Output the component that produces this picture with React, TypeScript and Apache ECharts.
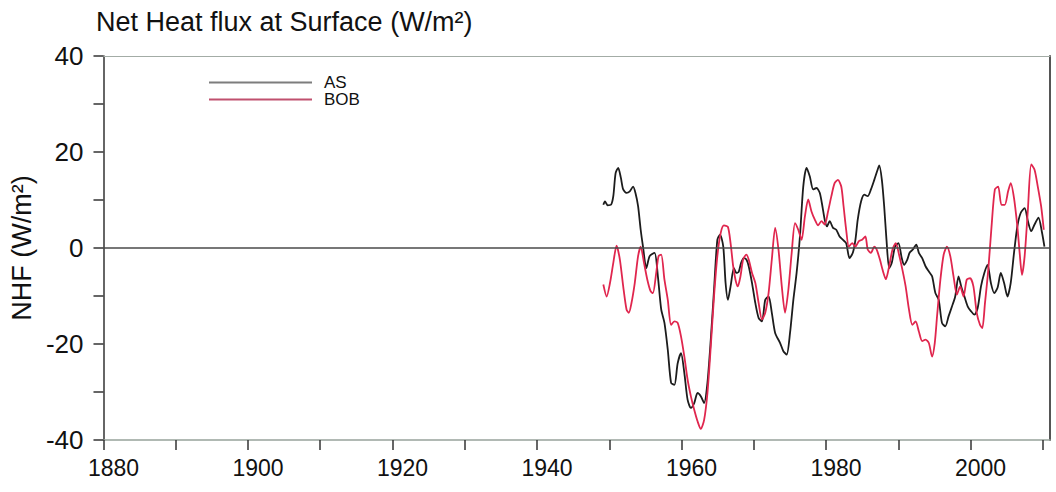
import React, { useEffect, useRef } from "react";
import * as echarts from "echarts";

// Net heat flux at surface, smoothed series (year, W/m²)
const asSeries: [number, number][] = [
  [1949.18, 9.0], [1949.41, 9.7], [1949.78, 8.9], [1950.24, 9.0], [1950.56, 10.8],
  [1950.88, 15.6], [1951.24, 16.7], [1951.61, 14.6], [1951.93, 12.2], [1952.39, 11.5],
  [1952.84, 11.8], [1953.3, 12.8], [1953.62, 11.5], [1953.99, 8.7], [1954.35, 3.8],
  [1954.67, 0.3], [1955.13, -4.2], [1955.59, -1.7], [1956.27, -1.0], [1956.73, -5.9],
  [1957.19, -12.8], [1957.64, -15.6], [1958.1, -21.2], [1958.56, -28.1], [1959.02, -28.5],
  [1959.47, -24.0], [1959.93, -21.9], [1960.39, -26.0], [1960.84, -31.6], [1961.3, -33.3],
  [1961.76, -32.3], [1962.22, -30.2], [1962.67, -30.9], [1963.13, -32.3], [1963.59, -28.1],
  [1964.05, -19.1], [1964.5, -8.7], [1964.96, 1.7], [1965.33, 2.8], [1965.78, 0.3],
  [1966.1, -7.3], [1966.42, -10.8], [1966.79, -8.0], [1967.25, -4.2], [1967.61, -5.2],
  [1967.93, -4.9], [1968.25, -3.1], [1968.62, -2.1], [1968.98, -2.4], [1969.3, -3.8],
  [1969.76, -7.3], [1970.22, -11.5], [1970.68, -14.6], [1971.13, -15.3], [1971.59, -10.8],
  [1972.05, -10.1], [1972.5, -13.5], [1972.96, -17.7], [1973.65, -19.8], [1974.1, -21.5],
  [1974.56, -22.2], [1975.02, -17.7], [1975.48, -10.8], [1975.93, -5.2], [1976.39, 2.4],
  [1976.85, 12.8], [1977.31, 16.7], [1977.76, 14.9], [1978.22, 12.2], [1978.68, 12.5],
  [1979.13, 11.5], [1979.5, 8.7], [1979.82, 5.9], [1980.14, 4.5], [1980.51, 5.6],
  [1980.97, 4.2], [1981.42, 3.8], [1981.88, 2.4], [1982.34, 1.7], [1982.79, 1.0],
  [1983.25, -2.1], [1983.71, -1.0], [1984.07, 1.7], [1984.39, 5.9], [1984.85, 9.7],
  [1985.31, 11.1], [1985.77, 10.8], [1986.22, 12.2], [1986.68, 14.2], [1987.14, 16.3],
  [1987.37, 17.2], [1987.73, 14.2], [1988.05, 8.7], [1988.37, 1.7], [1988.74, -4.2],
  [1989.1, -3.1], [1989.56, 0.3], [1990.02, 1.0], [1990.48, -2.1], [1990.8, -3.5],
  [1991.25, -2.4], [1991.57, -1.0], [1992.03, -0.3], [1992.49, 0.7], [1992.85, -1.0],
  [1993.31, -2.1], [1993.77, -3.8], [1994.23, -4.9], [1994.68, -5.9], [1995.14, -9.4],
  [1995.6, -10.8], [1996.05, -15.6], [1996.51, -16.3], [1996.97, -14.2], [1997.43, -12.2],
  [1997.88, -10.1], [1998.34, -5.9], [1998.71, -8.0], [1999.16, -10.1], [1999.62, -12.2],
  [2000.08, -13.2], [2000.54, -13.9], [2000.99, -12.5], [2001.45, -8.0], [2001.91, -5.2],
  [2002.36, -3.5], [2002.82, -7.3], [2003.28, -9.4], [2003.74, -8.3], [2004.19, -5.2],
  [2004.65, -7.3], [2005.11, -10.1], [2005.56, -7.3], [2006.02, -1.0], [2006.48, 4.5],
  [2006.94, 7.3], [2007.49, 8.3], [2007.94, 5.6], [2008.4, 3.5], [2008.86, 4.9],
  [2009.41, 6.3], [2009.86, 3.5], [2010.23, 0.3],
];

const bobSeries: [number, number][] = [
  [1949.18, -7.6], [1949.64, -10.1], [1950.1, -7.3], [1950.56, -3.1], [1951.01, 0.5],
  [1951.47, -2.4], [1951.93, -8.0], [1952.39, -12.8], [1952.71, -13.5], [1953.07, -11.5],
  [1953.53, -7.3], [1953.99, -1.7], [1954.35, 0.3], [1954.81, -3.1], [1955.27, -6.6],
  [1955.72, -9.0], [1956.04, -9.4], [1956.5, -5.2], [1956.82, -1.7], [1957.19, -1.4],
  [1957.64, -6.6], [1958.1, -10.8], [1958.56, -16.0], [1959.02, -15.3], [1959.47, -15.6],
  [1959.93, -18.4], [1960.39, -22.6], [1960.84, -27.4], [1961.3, -30.9], [1961.76, -33.7],
  [1962.22, -36.1], [1962.67, -37.7], [1963.13, -35.8], [1963.59, -30.2], [1964.05, -20.5],
  [1964.5, -10.1], [1964.96, -1.7], [1965.42, 3.1], [1965.87, 4.7], [1966.42, 4.4],
  [1966.79, 1.0], [1967.15, -3.8], [1967.47, -6.6], [1967.79, -8.0], [1968.16, -5.9],
  [1968.53, -2.4], [1968.98, -1.4], [1969.3, -2.4], [1969.76, -5.2], [1970.22, -7.3],
  [1970.68, -11.5], [1971.13, -14.9], [1971.59, -13.5], [1972.05, -9.4], [1972.5, -2.4],
  [1972.96, 4.2], [1973.42, -0.3], [1973.88, -8.0], [1974.33, -13.5], [1974.79, -8.7],
  [1975.25, -1.0], [1975.71, 5.2], [1976.16, 3.8], [1976.62, 1.7], [1977.08, 6.6],
  [1977.53, 10.1], [1977.99, 7.6], [1978.45, 5.9], [1978.91, 4.7], [1979.36, 5.6],
  [1979.82, 4.9], [1980.28, 7.6], [1980.74, 10.8], [1981.19, 13.5], [1981.65, 14.2],
  [1982.11, 12.8], [1982.43, 8.7], [1982.79, 3.8], [1983.16, 0.3], [1983.62, 1.0],
  [1984.07, 0.3], [1984.53, 1.4], [1984.99, 1.7], [1985.45, 2.4], [1985.77, -0.3],
  [1986.22, -1.0], [1986.68, 0.3], [1987.0, -0.3], [1987.46, -2.4], [1987.82, -4.5],
  [1988.28, -6.5], [1988.74, -3.8], [1989.2, -0.3], [1989.65, 1.0], [1990.11, -1.4],
  [1990.57, -4.5], [1991.02, -8.0], [1991.48, -12.8], [1991.94, -16.0], [1992.4, -15.3],
  [1992.85, -17.4], [1993.31, -19.4], [1993.77, -19.1], [1994.23, -19.8], [1994.68, -22.6],
  [1995.05, -19.8], [1995.37, -14.2], [1995.83, -6.6], [1996.28, -1.4], [1996.74, 0.3],
  [1997.2, -1.7], [1997.65, -5.9], [1998.11, -9.7], [1998.57, -8.0], [1999.03, -10.1],
  [1999.48, -6.6], [1999.94, -6.3], [2000.4, -8.0], [2000.86, -13.5], [2001.31, -16.0],
  [2001.63, -16.7], [2002.0, -11.5], [2002.46, -4.5], [2002.91, 4.5], [2003.37, 12.2],
  [2003.83, 12.8], [2004.28, 9.0], [2004.74, 9.0], [2005.2, 11.8], [2005.56, 13.5],
  [2006.02, 10.4], [2006.48, 4.5], [2006.8, -1.0], [2007.12, -5.6], [2007.49, -1.7],
  [2007.94, 8.0], [2008.4, 17.4], [2008.86, 16.3], [2009.31, 12.8], [2009.77, 8.7],
  [2010.14, 3.8],
];

const xTickYears = [1880, 1890, 1900, 1910, 1920, 1930, 1940, 1950, 1960, 1970, 1980, 1990, 2000, 2010];
const xLabelYears = [1880, 1900, 1920, 1940, 1960, 1980, 2000];
const yLabelValues = [-40, -20, 0, 20, 40];

const FONT = "'Liberation Sans', Arial, Helvetica, sans-serif";

export default function App() {
  const ref = useRef<HTMLDivElement>(null);

  useEffect(() => {
    if (!ref.current) return;
    const chart = echarts.init(ref.current, null, { renderer: "svg" });
    chart.setOption({
      animation: false,
      backgroundColor: "#ffffff",
      title: {
        text: "Net Heat flux at Surface (W/m²)",
        left: 96,
        top: 8,
        padding: 0,
        textStyle: { fontFamily: FONT, fontSize: 27, fontWeight: "normal", color: "#111" },
      },
      legend: {
        orient: "vertical",
        left: 209,
        top: 74,
        padding: 0,
        icon: "rect",
        itemWidth: 103,
        itemHeight: 2,
        itemGap: 0,
        textStyle: { fontFamily: FONT, fontSize: 17, color: "#111", padding: [0, 0, 0, 7] },
        data: [
          { name: "AS", itemStyle: { color: "#7d7d7d" } },
          { name: "BOB", itemStyle: { color: "#c0506e" } },
        ],
      },
      grid: { left: 94, right: 6, top: 56, bottom: 52 },
      xAxis: [
        {
          type: "value",
          min: 1880,
          max: 2011,
          axisLine: { show: true, onZero: false, lineStyle: { color: "#97a29b", width: 1.5 } },
          axisTick: {
            show: true,
            length: 10,
            customValues: xTickYears,
            lineStyle: { color: "#333", width: 1.5 },
          },
          axisLabel: {
            customValues: xLabelYears,
            fontFamily: FONT,
            fontSize: 23,
            color: "#111",
            margin: 16,
            padding: [0, 0, 0, 20],
            formatter: (v: number) => String(v),
          },
          splitLine: { show: false },
        },
        {
          type: "value",
          position: "top",
          min: 1880,
          max: 2011,
          axisLine: { show: true, onZero: false, lineStyle: { color: "#a3aca6", width: 1 } },
          axisTick: { show: false },
          axisLabel: { show: false },
          splitLine: { show: false },
        },
      ],
      yAxis: [
        {
          type: "value",
          min: -40,
          max: 40,
          interval: 10,
          name: "NHF (W/m²)",
          nameLocation: "middle",
          nameRotate: 90,
          nameGap: 58,
          nameTextStyle: { fontFamily: FONT, fontSize: 27, color: "#111" },
          axisLine: { show: true, onZero: false, lineStyle: { color: "#333", width: 1.5 } },
          axisTick: { show: true, length: 10, lineStyle: { color: "#333", width: 1.5 } },
          axisLabel: {
            fontFamily: FONT,
            fontSize: 26,
            color: "#111",
            margin: 20,
            formatter: (v: number) => (yLabelValues.includes(v) ? String(v) : ""),
          },
          splitLine: { show: false },
        },
        {
          type: "value",
          position: "right",
          min: -40,
          max: 40,
          axisLine: { show: true, onZero: false, lineStyle: { color: "#555", width: 2 } },
          axisTick: { show: false },
          axisLabel: { show: false },
          splitLine: { show: false },
        },
      ],
      series: [
        {
          name: "AS",
          type: "line",
          data: asSeries,
          symbol: "none",
          smooth: 0.25,
          lineStyle: { color: "#1c1c1c", width: 1.8 },
          itemStyle: { color: "#1c1c1c" },
          markLine: {
            silent: true,
            symbol: "none",
            label: { show: false },
            lineStyle: { color: "#4a4a4a", width: 1.5, type: "solid" },
            data: [{ yAxis: 0 }],
          },
          z: 2,
        },
        {
          name: "BOB",
          type: "line",
          data: bobSeries,
          symbol: "none",
          smooth: 0.25,
          lineStyle: { color: "#e0264e", width: 1.8 },
          itemStyle: { color: "#e0264e" },
          z: 3,
        },
      ],
    });
    return () => chart.dispose();
  }, []);

  return (
    <div
      ref={ref}
      style={{ position: "fixed", left: 0, top: 0, width: 1056, height: 492, background: "#fff" }}
    />
  );
}
